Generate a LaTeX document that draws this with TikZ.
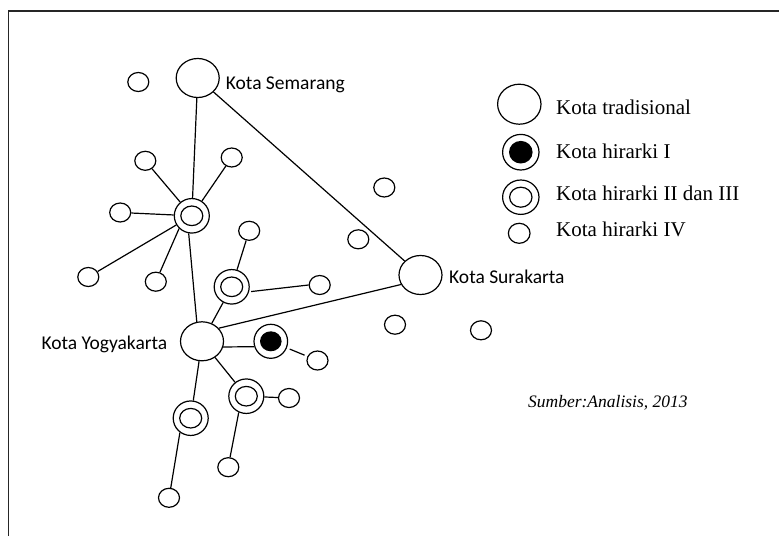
\documentclass[tikz,border=0pt]{standalone}
\usepackage{fontspec}
\setmainfont{Liberation Serif}
\newfontfamily\lblfont{Carlito}
\usetikzlibrary{shapes.geometric}
\tikzset{
  city/.style={ellipse, draw, line width=1.2pt, inner sep=0pt, fill=white},
  small/.style={city, minimum width=21pt, minimum height=19pt},
  big/.style={city, minimum width=43pt, minimum height=39pt},
  dbl/.style={city, minimum width=35pt, minimum height=34.5pt},
  edge/.style={line width=1.2pt},
  lbl/.style={font=\lblfont\fontsize{19.5}{22}\selectfont, inner sep=0pt},
  leg/.style={font=\fontsize{21}{24}\selectfont, anchor=base west, inner sep=0pt},
}
\begin{document}
\begin{tikzpicture}[x=1pt,y=-1pt]
\useasboundingbox (0,0) rectangle (779,536);
\draw[line width=1.4pt, black!85] (8.7,536) coordinate (fa) -- (8.7,11) coordinate (fb) -- (779,11) coordinate (fc);

% nodes
\node[big] (sem) at (197.7,78) {};
\node[small] (s1) at (138.3,82) {};
\node[dbl] (hub1) at (191.8,215.8) {};
\node[small] (a1) at (145.3,160.8) {};
\node[small] (a2) at (231.7,157.5) {};
\node[small] (a3) at (120.2,212.5) {};
\node[small] (a4) at (88.3,277) {};
\node[small] (a5) at (155.8,281.7) {};
\node[dbl] (hub2) at (231.7,286.8) {};
\node[small] (b1) at (249.2,230.8) {};
\node[small] (b2) at (319.7,285) {};
\node[big] (yog) at (202,341.3) {};
\node[dbl, minimum width=33.6pt, minimum height=34pt] (f1) at (270.8,341.3) {};
\node[small] (c1) at (317.5,360.5) {};
\node[dbl] (hub3) at (246.3,396.2) {};
\node[small] (d1) at (289,398) {};
\node[small] (d2) at (228.3,467.2) {};
\node[dbl] (hub4) at (190.7,418.2) {};
\node[small] (e1) at (169,497.8) {};
\node[big] (sur) at (420.5,275) {};
\node[small] (m1) at (384.3,187.5) {};
\node[small] (m2) at (358.3,239.3) {};
\node[small] (m3) at (395,324.7) {};
\node[small] (m4) at (481,330.3) {};

% inner rings
\foreach \n in {hub1,hub2,hub3,hub4}
  \draw[line width=1.2pt] (\n) ellipse [x radius=11pt, y radius=9.8pt];
\fill (f1) ellipse [x radius=10.8pt, y radius=10pt];

% edges
\draw[edge] (sem) -- (hub1);
\draw[edge] (sem) -- (sur);
\draw[edge] (hub1.260) -- (yog.105);
\foreach \n in {a1,a2,a3,a4}
  \draw[edge] (hub1) -- (\n);
\draw[edge] (hub1.225) -- (a5);
\draw[edge] (yog.38) -- (sur.206);
\draw[edge] (yog) -- (hub2);
\draw[edge] (hub2) -- (b1);
\draw[edge, shorten <=2pt] (hub2.-16) -- (b2.west);
\draw[edge] (yog.-15) -- (f1.198);
\draw[edge, shorten <=3pt, shorten >=3pt] (f1) -- (c1);
\draw[edge] (yog) -- (hub3);
\draw[edge] (hub3) -- (d1);
\draw[edge] (hub3.245) -- (d2.80);
\draw[edge] (yog) -- (hub4);
\draw[edge] (hub4.233) -- (e1.80);

% labels
\node[lbl, anchor=base west] (tsem) at (225.7,89.3) {Kota Semarang};
\node[lbl, anchor=base east] (tyog) at (167.5,349.3) {Kota Yogyakarta};
\node[lbl, anchor=base west] (tsur) at (449,283.3) {Kota Surakarta};

% legend
\node[big, minimum width=43.4pt, minimum height=40pt] (L1) at (519.3,104.2) {};
\node[dbl, minimum width=36.4pt, minimum height=35.6pt] (L2) at (520.8,152.2) {};
\fill (L2) ellipse [x radius=11.8pt, y radius=11.3pt];
\node[dbl, minimum width=36.4pt, minimum height=34.4pt] (L3) at (520.8,197.2) {};
\draw[line width=1.2pt] (L3) ellipse [x radius=11.2pt, y radius=10pt];
\node[small, minimum width=21.7pt, minimum height=20pt] (L4) at (519.2,233.3) {};
\node[leg] (t1) at (556,114.3) {Kota tradisional};
\node[leg] (t2) at (556,158.3) {Kota hirarki I};
\node[leg] (t3) at (556,200) {Kota hirarki II dan III};
\node[leg] (t4) at (556,236) {Kota hirarki IV};

\node[font=\itshape\fontsize{17.5}{20}\selectfont, anchor=base west, inner sep=0pt] (src) at (528,407.3) {Sumber:Analisis, 2013};
\end{tikzpicture}
\end{document}
